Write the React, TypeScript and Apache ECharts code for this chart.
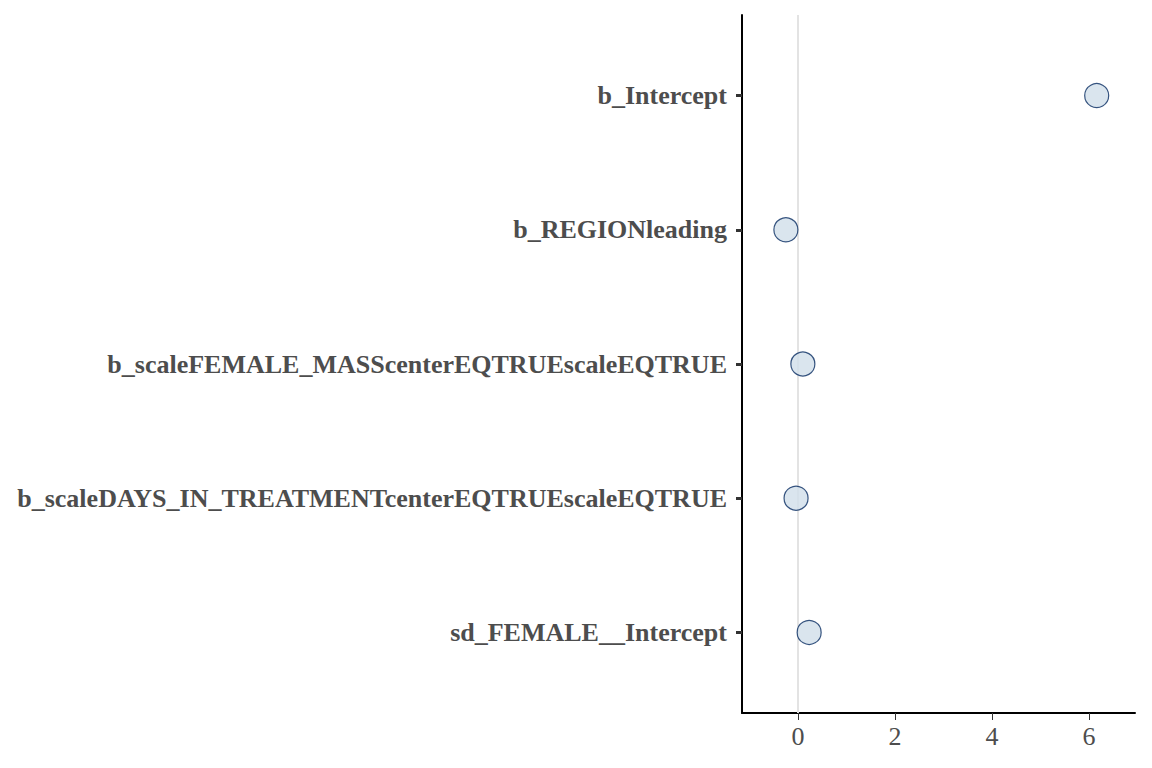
import React, { useEffect, useRef } from "react";
import * as echarts from "echarts";

const categories = [
  "b_Intercept",
  "b_REGIONleading",
  "b_scaleFEMALE_MASScenterEQTRUEscaleEQTRUE",
  "b_scaleDAYS_IN_TREATMENTcenterEQTRUEscaleEQTRUE",
  "sd_FEMALE__Intercept",
];
const estimates = [6.16, -0.25, 0.1, -0.04, 0.23];
const xTicks = [0, 2, 4, 6];

export default function App() {
  const ref = useRef<HTMLDivElement>(null);
  useEffect(() => {
    const chart = echarts.init(ref.current!, null, { renderer: "svg" });
    const yPos = categories.map((_, i) => i + 1);
    chart.setOption({
      animation: false,
      backgroundColor: "#ffffff",
      grid: { left: 742, right: 17, top: 15, bottom: 55, containLabel: false },
      xAxis: {
        type: "value",
        min: -1.155,
        max: 6.95,
        axisLine: { show: true, onZero: false, lineStyle: { color: "#000", width: 2 } },
        axisTick: { show: true, length: 7, customValues: xTicks, lineStyle: { color: "#333", width: 1 } },
        axisLabel: {
          customValues: xTicks,
          margin: 10,
          color: "#4d4d4d",
          fontFamily: "Liberation Serif",
          fontSize: 26,
        },
        splitLine: { show: false },
      },
      yAxis: {
        type: "value",
        inverse: true,
        min: 0.4,
        max: 5.6,
        axisLine: { show: true, onZero: false, lineStyle: { color: "#000", width: 2 } },
        axisTick: { show: true, length: 6, customValues: yPos, lineStyle: { color: "#333", width: 3 } },
        axisLabel: {
          customValues: yPos,
          margin: 15,
          color: "#4d4d4d",
          fontFamily: "Liberation Serif",
          fontWeight: "bold",
          fontSize: 26,
          formatter: (v: number) => categories[Math.round(v) - 1] ?? "",
        },
        splitLine: { show: false },
      },
      series: [
        {
          type: "scatter",
          data: estimates.map((e, i) => [e, i + 1]),
          symbol: "circle",
          symbolSize: 24,
          itemStyle: { color: "#d1dfea", borderColor: "#062a60", borderWidth: 1.2 },
          z: 5,
          markLine: {
            silent: true,
            symbol: "none",
            label: { show: false },
            lineStyle: { color: "#e3e3e3", width: 2, type: "solid" },
            data: [{ xAxis: 0 }],
            z: 1,
          },
        },
      ],
    });
    return () => chart.dispose();
  }, []);
  return <div ref={ref} style={{ width: 1152, height: 768, position: "absolute", left: 0, top: 0 }} />;
}
